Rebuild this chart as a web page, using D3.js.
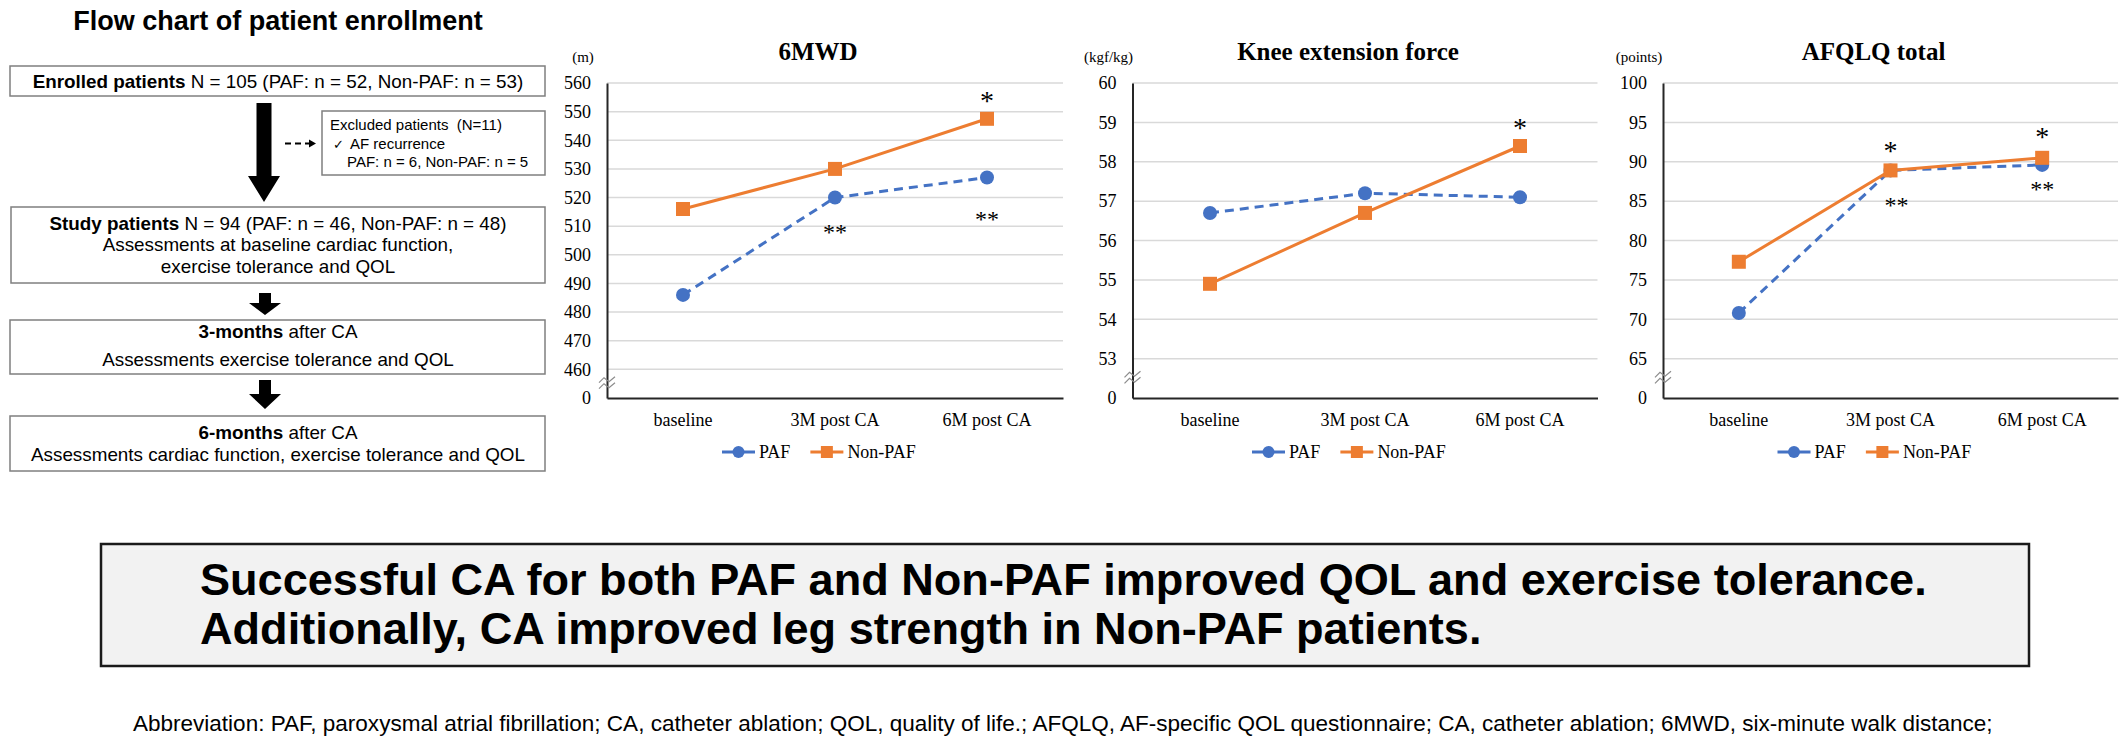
<!DOCTYPE html>
<html>
<head>
<meta charset="utf-8">
<script src="https://cdn.jsdelivr.net/npm/d3@7"></script>
<style>
  body { margin: 0; background: #fff; }
  svg { display: block; }
  text { white-space: pre; }
</style>
</head>
<body>
<script>
"use strict";

// categories shared by the three panels
const categories = ["baseline", "3M post CA", "6M post CA"];
const seriesNames = ["PAF", "Non-PAF"];

// 6MWD (m)
const mwdPAF = [486, 520, 527];
const mwdNonPAF = [516, 530, 547.5];
const mwdTicks = [460, 470, 480, 490, 500, 510, 520, 530, 540, 550, 560];

// knee extension force (kgf/kg)
const kneePAF = [56.7, 57.2, 57.1];
const kneeNonPAF = [54.9, 56.7, 58.4];
const kneeTicks = [53, 54, 55, 56, 57, 58, 59, 60];

// AFQLQ total (points)
const afqlqPAF = [70.8, 88.9, 89.6];
const afqlqNonPAF = [77.3, 88.9, 90.5];
const afqlqTicks = [65, 70, 75, 80, 85, 90, 95, 100];

// significance marks: [category index, series index, label]
const mwdMarks = [[2, 1, "*"], [1, 0, "**"], [2, 0, "**"]];
const kneeMarks = [[2, 1, "*"]];
const afqlqMarks = [[1, 1, "*"], [1, 0, "**"], [2, 1, "*"], [2, 0, "**"]];

const sans = "'Liberation Sans', Arial, sans-serif";
const serif = "'Liberation Serif', 'Times New Roman', serif";
const colors = ["#4472C4", "#ED7D31"];

const svg = d3.select("body").append("svg")
    .attr("width", 2128)
    .attr("height", 740);

/**
 * Scale font size of a text so that it spans the wanted width
 */
function fit(sel, target)
{
    let w = sel.node().getComputedTextLength();
    let fs = parseFloat(sel.style("font-size"));
    let size = fs * target / w;
    sel.style("font-size", size + "px");
    return size;
}

// ---------------- flow chart ----------------
const flow = svg.append("g");

flow.append("text")
    .attr("x", 278).attr("y", 30)
    .attr("text-anchor", "middle")
    .style("font-family", sans).style("font-size", "27px").style("font-weight", "bold")
    .text("Flow chart of patient enrollment");

function box(x, y, w, h)
{
    flow.append("rect")
        .attr("x", x).attr("y", y).attr("width", w).attr("height", h)
        .attr("fill", "#fff").attr("stroke", "#7f7f7f").attr("stroke-width", 1.5);
}

function textLine(x, y, parts, size, anchor)
{
    let t = flow.append("text")
        .attr("x", x).attr("y", y)
        .attr("text-anchor", anchor || "middle")
        .style("font-family", sans).style("font-size", size + "px").attr("fill", "#000");
    parts.forEach((p) => {
        t.append("tspan").style("font-weight", p[1] ? "bold" : "normal").text(p[0]);
    });
    return t;
}

function blockArrow(cx, y0, y1, y2, sw, hw)
{
    flow.append("path")
        .attr("d", `M${cx - sw},${y0}H${cx + sw}V${y1}H${cx + hw}L${cx},${y2}L${cx - hw},${y1}H${cx - sw}Z`)
        .attr("fill", "#000");
}

box(10, 66, 535, 30);
let first = textLine(278, 88, [["Enrolled patients", true], [" N = 105 (PAF: n = 52, Non-PAF: n = 53)", false]], 18.5);
let flowSize = fit(first, 491);

blockArrow(264, 103, 176, 202, 7.5, 16);

box(322, 111, 223, 64);
textLine(330, 130, [["Excluded patients  (N=11)", false]], 15, "start");
textLine(333, 148.5, [["\u2713", false]], 13, "start");
textLine(350, 148.5, [["AF recurrence", false]], 15, "start");
textLine(347, 166.5, [["PAF: n = 6, Non-PAF: n = 5", false]], 15, "start");

flow.append("line")
    .attr("x1", 285).attr("x2", 309).attr("y1", 143.5).attr("y2", 143.5)
    .attr("stroke", "#000").attr("stroke-width", 2).attr("stroke-dasharray", "6,4");
flow.append("path").attr("d", "M309,139.5L316,143.5L309,147.5Z").attr("fill", "#000");

box(11, 207, 534, 76);
textLine(278, 229.5, [["Study patients", true], [" N = 94 (PAF: n = 46, Non-PAF: n = 48)", false]], flowSize);
textLine(278, 251, [["Assessments at baseline cardiac function,", false]], flowSize);
textLine(278, 273, [["exercise tolerance and QOL", false]], flowSize);

blockArrow(265, 293, 303, 315, 6, 16);

box(10, 320, 535, 54);
textLine(278, 338, [["3-months", true], [" after CA", false]], flowSize);
textLine(278, 366, [["Assessments exercise tolerance and QOL", false]], flowSize);

blockArrow(265, 380, 394, 409, 6, 16);

box(10, 416, 535, 55);
textLine(278, 439, [["6-months", true], [" after CA", false]], flowSize);
textLine(278, 461, [["Assessments cardiac function, exercise tolerance and QOL", false]], flowSize);

// ---------------- line panels ----------------
const plotTop = 83;
const plotBottom = 398;

const panels = [
    {title: "6MWD", unit: "(m)", ticks: mwdTicks, series: [mwdPAF, mwdNonPAF], marks: mwdMarks,
     offsets: [[0, -23], [0, 30], [0, 37]], left: 607, width: 456},
    {title: "Knee extension force", unit: "(kgf/kg)", ticks: kneeTicks, series: [kneePAF, kneeNonPAF], marks: kneeMarks,
     offsets: [[0, -23]], left: 1132.5, width: 465},
    {title: "AFQLQ total", unit: "(points)", ticks: afqlqTicks, series: [afqlqPAF, afqlqNonPAF], marks: afqlqMarks,
     offsets: [[0, -24], [6, 31], [0, -26], [0, 20]], left: 1663, width: 455}
];

function drawPanel(p)
{
    let g = svg.append("g");
    let step = p.ticks[1] - p.ticks[0];
    let low = p.ticks[0] - step;
    let high = p.ticks[p.ticks.length - 1];
    let right = p.left + p.width;
    let center = p.left + p.width / 2;

    let x = d3.scaleBand().domain(categories).range([p.left, right]);
    let cx = (i) => x(categories[i]) + x.bandwidth() / 2;
    let y = d3.scaleLinear().domain([low, high]).range([plotBottom, plotTop]);

    // gridlines
    g.append("g").selectAll("line").data(p.ticks).join("line")
        .attr("x1", p.left).attr("x2", right)
        .attr("y1", (d) => y(d)).attr("y2", (d) => y(d))
        .attr("stroke", "#d9d9d9").attr("stroke-width", 1.5);

    // y axis, lowest tick is the broken "0"
    let ya = g.append("g")
        .attr("transform", "translate(" + p.left + ",0)")
        .call(d3.axisLeft(y)
            .tickValues([low].concat(p.ticks))
            .tickSize(0).tickPadding(16)
            .tickFormat((d) => d === low ? "0" : d));
    ya.select(".domain").attr("stroke", "#262626").attr("stroke-width", 2);
    ya.selectAll("text").style("font-family", serif).style("font-size", "18px").attr("fill", "#000");

    // x axis
    let xa = g.append("g")
        .attr("transform", "translate(0," + plotBottom + ")")
        .call(d3.axisBottom(x).tickSize(0).tickPadding(15));
    xa.select(".domain").attr("stroke", "#262626").attr("stroke-width", 2);
    xa.selectAll("text").style("font-family", serif).style("font-size", "18px").attr("fill", "#000");

    // axis break symbol
    let yb = y(low + step / 2);
    [-3, 3].forEach((o) => {
        g.append("path")
            .attr("d", `M${p.left - 8},${yb + o + 2}L${p.left - 3},${yb + o - 3}L${p.left + 2},${yb + o + 1}L${p.left + 8},${yb + o - 4}`)
            .attr("fill", "none").attr("stroke", "#8c8c8c").attr("stroke-width", 1.2);
    });

    // titles
    g.append("text")
        .attr("x", center - 17).attr("y", 60).attr("text-anchor", "middle")
        .style("font-family", serif).style("font-size", "25px").style("font-weight", "bold")
        .text(p.title);
    g.append("text")
        .attr("x", p.left - 24).attr("y", 62).attr("text-anchor", "middle")
        .style("font-family", serif).style("font-size", "15px")
        .text(p.unit);

    // series
    let line = d3.line().x((d, i) => cx(i)).y((d) => y(d));
    p.series.forEach((vals, s) => {
        g.append("path")
            .datum(vals)
            .attr("d", line)
            .attr("fill", "none")
            .attr("stroke", colors[s]).attr("stroke-width", 3)
            .attr("stroke-dasharray", s === 0 ? "9,6" : null);
        if (s === 0)
        {
            g.append("g").selectAll("circle").data(vals).join("circle")
                .attr("cx", (d, i) => cx(i)).attr("cy", (d) => y(d)).attr("r", 7)
                .attr("fill", colors[s]);
        }
        else
        {
            g.append("g").selectAll("rect").data(vals).join("rect")
                .attr("x", (d, i) => cx(i) - 7).attr("y", (d) => y(d) - 7)
                .attr("width", 14).attr("height", 14)
                .attr("fill", colors[s]);
        }
    });

    // significance marks, glyph centred on the offset point
    p.marks.forEach((m, k) => {
        let fs = m[2] === "*" ? 28 : 24;
        let off = p.offsets[k];
        g.append("text")
            .attr("x", cx(m[0]) + off[0])
            .attr("y", y(p.series[m[1]][m[0]]) + off[1] + fs * 0.5)
            .attr("text-anchor", "middle")
            .style("font-family", serif).style("font-size", fs + "px")
            .text(m[2]);
    });

    // legend
    let lg = g.append("g");
    let lx = center - 14 - 99;
    let ly = 452;
    seriesNames.forEach((name, s) => {
        lg.append("line")
            .attr("x1", lx).attr("x2", lx + 33).attr("y1", ly).attr("y2", ly)
            .attr("stroke", colors[s]).attr("stroke-width", 3);
        if (s === 0)
            lg.append("circle").attr("cx", lx + 16.5).attr("cy", ly).attr("r", 6).attr("fill", colors[s]);
        else
            lg.append("rect").attr("x", lx + 10.5).attr("y", ly - 6).attr("width", 12).attr("height", 12).attr("fill", colors[s]);
        let t = lg.append("text")
            .attr("x", lx + 37).attr("y", ly + 6)
            .style("font-family", serif).style("font-size", "18px")
            .text(name);
        lx += 37 + t.node().getComputedTextLength() + 20;
    });
}

panels.forEach(drawPanel);

// ---------------- conclusion box ----------------
svg.append("rect")
    .attr("x", 101).attr("y", 544).attr("width", 1928).attr("height", 122)
    .attr("fill", "#f2f2f2").attr("stroke", "#1a1a1a").attr("stroke-width", 2.5);

let c1 = svg.append("text")
    .attr("x", 200).attr("y", 595)
    .style("font-family", sans).style("font-size", "44px").style("font-weight", "bold")
    .text("Successful CA for both PAF and Non-PAF improved QOL and exercise tolerance.");
let bigSize = fit(c1, 1727);
svg.append("text")
    .attr("x", 200).attr("y", 643.5)
    .style("font-family", sans).style("font-size", bigSize + "px").style("font-weight", "bold")
    .text("Additionally, CA improved leg strength in Non-PAF patients.");

let abbr = svg.append("text")
    .attr("x", 133).attr("y", 731)
    .style("font-family", sans).style("font-size", "21px")
    .text("Abbreviation: PAF, paroxysmal atrial fibrillation; CA, catheter ablation; QOL, quality of life.; AFQLQ, AF-specific QOL questionnaire; CA, catheter ablation; 6MWD, six-minute walk distance;");
fit(abbr, 1860);
</script>
</body>
</html>
